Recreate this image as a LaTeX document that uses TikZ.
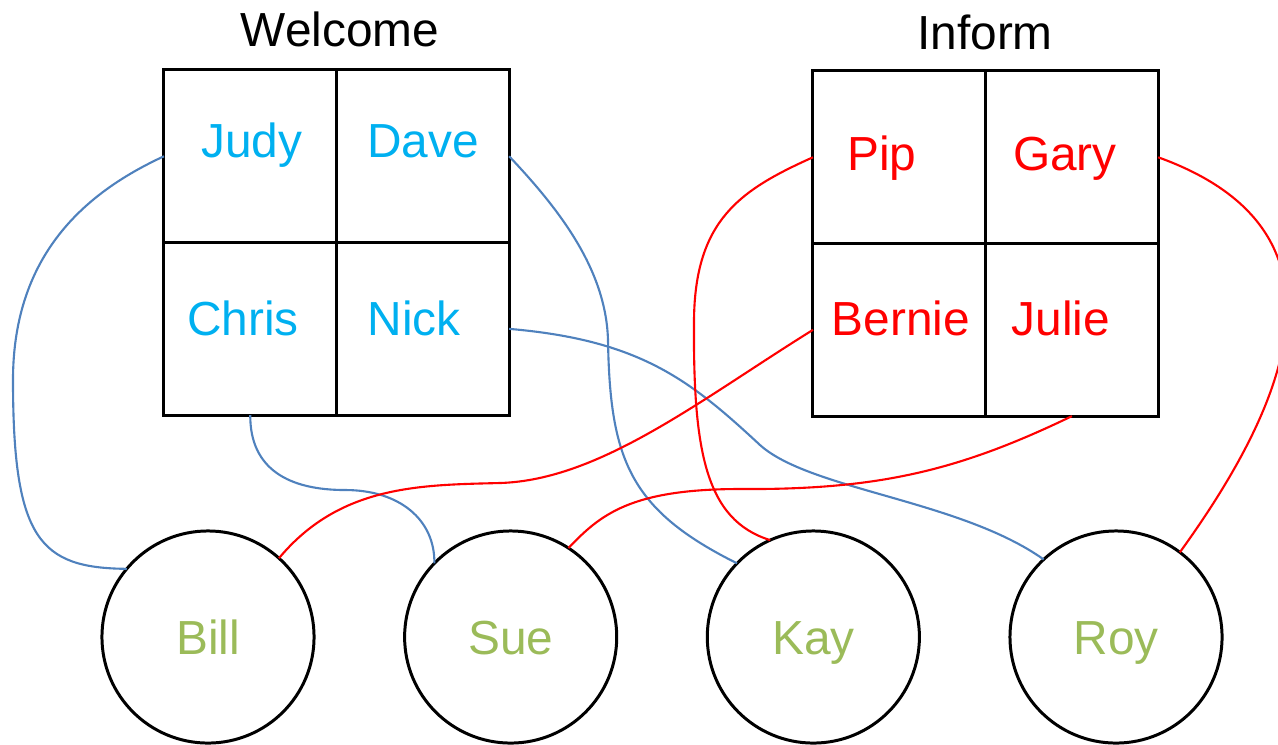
\documentclass[tikz,border=0pt]{standalone}
\usepackage{fontspec}
\setmainfont{Liberation Sans}
\usepackage{tikz}
\usetikzlibrary{positioning}
\definecolor{rosterblue}{RGB}{0,176,240}
\definecolor{linkblue}{RGB}{79,129,189}
\definecolor{linkred}{RGB}{255,0,0}
\definecolor{guestgreen}{RGB}{155,187,89}
\newcommand{\namefont}{\fontsize{13.6}{16}\selectfont}
\tikzset{
  %% ---- boxes ----
  cell/.style   = {rectangle, draw=black, line width=0.85pt,
                   outer sep=0pt, inner sep=0pt, minimum size=1.725cm},
  guest/.style  = {circle, draw=black, line width=0.85pt,
                   outer sep=0pt, minimum size=2.12cm,
                   text=guestgreen, font=\namefont,
                   text height=10pt, text depth=0pt},
  tag/.style    = {anchor=base, inner sep=0pt, font=\namefont, text=#1},
  tag/.default  = black,
  %% ---- links ----
  bluelink/.style = {line width=0.6pt, color=linkblue},
  redlink/.style  = {line width=0.6pt, color=linkred},
}

\begin{document}
\begin{tikzpicture}[x=0.01cm, y=-0.01cm]
  \useasboundingbox (0,0) rectangle (1278,744);

  %% Welcome table
  \node[tag] (welcome) at (340,46) {Welcome};
  \node[cell] (judy) at (250.25,156.25) {};
  \node[cell, right=0pt of judy] (dave) {};
  \node[cell, below=0pt of judy] (chris) {};
  \node[cell, right=0pt of chris] (nick) {};
  \node[tag=rosterblue] (judyname)  at (252,157) {Judy};
  \node[tag=rosterblue] (davename)  at (423,157) {Dave};
  \node[tag=rosterblue] (chrisname) at (243,335) {Chris};
  \node[tag=rosterblue] (nickname)  at (414,335) {Nick};

  %% Inform table
  \node[tag] (inform) at (985,49) {Inform};
  \node[cell] (pip) at (899.25,157.25) {};
  \node[cell, right=0pt of pip] (gary) {};
  \node[cell, below=0pt of pip] (bernie) {};
  \node[cell, right=0pt of bernie] (julie) {};
  \node[tag=linkred] (pipname)    at (882,170)  {Pip};
  \node[tag=linkred] (garyname)   at (1065,170) {Gary};
  \node[tag=linkred] (berniename) at (901,335)  {Bernie};
  \node[tag=linkred] (juliename)  at (1061,335) {Julie};

  %% Guests
  \node[guest] (bill) at (208,637) {Bill};
  \node[guest, right=0.905cm of bill] (sue) {Sue};
  \node[guest, right=0.905cm of sue] (kay) {Kay};
  \node[guest, right=0.905cm of kay] (roy) {Roy};

  %% Welcome links
  \draw[bluelink] (judy.west) .. controls (91,190) and (13,250) .. (13,380)
                  .. controls (13,540) and (40,568) .. (bill.140);
  \draw[bluelink] (dave.east) .. controls (560,210) and (606,270) .. (608,340)
                  .. controls (610,460) and (630,510) .. (kay.136);
  \draw[bluelink] (chris.south) .. controls (250,470) and (290,490) .. (345,490)
                  .. controls (400,490) and (435,520) .. (sue.136);
  \draw[bluelink] (nick.east) .. controls (640,340) and (690,380) .. (760,445)
                  .. controls (810,490) and (960,500) .. (roy.133);

  %% Inform links
  \draw[redlink] (pip.west) .. controls (740,190) and (695,220) .. (694,320)
                 .. controls (693,450) and (705,520) .. (kay.114);
  \draw[redlink] (gary.east) .. controls (1360,230) and (1290,400) .. (roy.53);
  \draw[redlink] (bernie.west) .. controls (700,400) and (600,480) .. (500,483)
                 .. controls (420,485) and (340,485) .. (bill.48);
  \draw[redlink] (julie.south) .. controls (960,470) and (880,490) .. (740,489)
                 .. controls (630,489) and (600,515) .. (sue.57);

\end{tikzpicture}
\end{document}
